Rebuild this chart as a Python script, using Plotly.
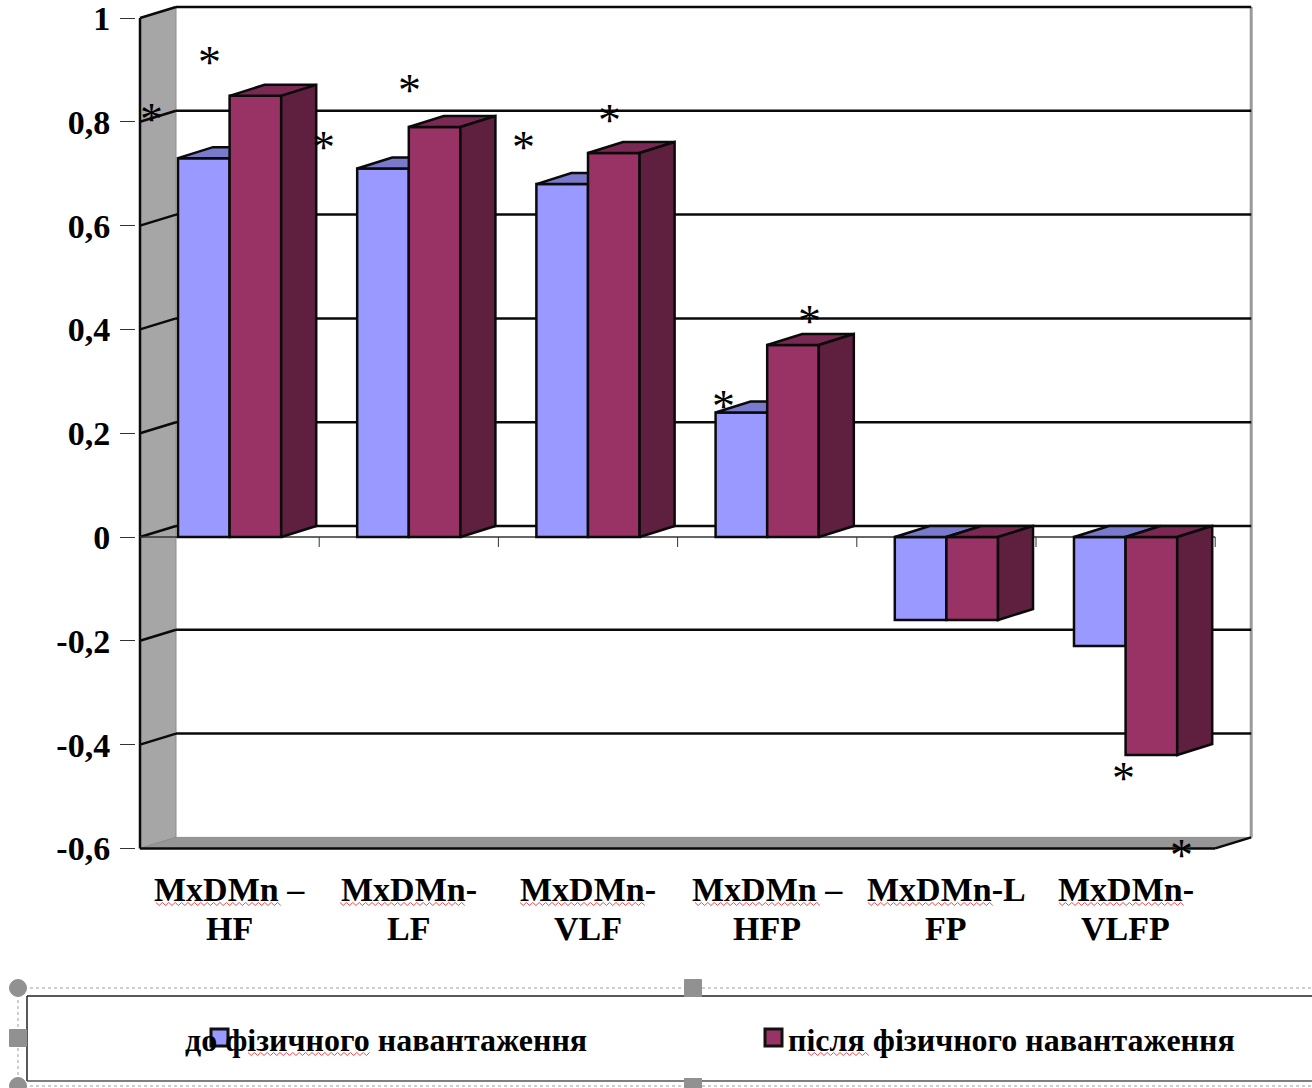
import plotly.graph_objects as go

# Chart data
categories = ["MxDMn –|HF", "MxDMn-|LF", "MxDMn-|VLF", "MxDMn –|HFP", "MxDMn-L|FP", "MxDMn-|VLFP"]
before_load = [0.73, 0.71, 0.68, 0.24, -0.16, -0.21]
after_load = [0.85, 0.79, 0.74, 0.37, -0.16, -0.42]
y_ticks = [1, 0.8, 0.6, 0.4, 0.2, 0, -0.2, -0.4, -0.6]
y_tick_labels = ["1", "0,8", "0,6", "0,4", "0,2", "0", "-0,2", "-0,4", "-0,6"]
legend_labels = ["до фізичного навантаження", "після фізичного навантаження"]

# Canvas and plot frame, in page pixels (frame leaves room for edge strokes)
W, H = 1312, 1088
LEFT, RIGHT, TOP, BOTTOM = 136, 1256, 4, 853
ORIGIN_PX, ZERO_PX, UNIT_PX, CAT_PX = 140, 537, 519, 179.2

# Depth of the extruded look, in axis units
DEPTH_X = 36 / CAT_PX
DEPTH_Y = 11 / UNIT_PX
BAR_W = 0.288
BAR_DEPTH_X = 35 / CAT_PX

X_RANGE = [(LEFT - ORIGIN_PX) / CAT_PX, (RIGHT - ORIGIN_PX) / CAT_PX]
Y_RANGE = [(ZERO_PX - BOTTOM) / UNIT_PX, (ZERO_PX - TOP) / UNIT_PX]
X_MAX = 6.0

BLUE, BLUE_TOP = "#9999FF", "#7A7ACC"
MAROON, MAROON_TOP, MAROON_SIDE = "#993366", "#7A2952", "#5F2040"
INK = "#0a0a0a"
FONT = "Liberation Serif"
EDGE = 2.5


def px(x):
    return x / W


def py(y):
    return 1 - y / H


def squiggle(x0, x1, y):
    pts = []
    x, up = x0, True
    while x <= x1:
        pts.append((x, y - 1.5 if up else y + 1.5))
        x += 3.2
        up = not up
    d = "M " + " L ".join(f"{px(a):.5f},{py(b):.5f}" for a, b in pts)
    return dict(type="path", path=d, xref="paper", yref="paper",
                line=dict(color="#F0484C", width=1), layer="above")


def poly(xs, ys, fill, line=INK, width=2, layer="below"):
    d = "M " + " L ".join(f"{a:.5f},{b:.5f}" for a, b in zip(xs, ys)) + " Z"
    return dict(type="path", path=d, xref="x", yref="y", fillcolor=fill,
                line=dict(color=line, width=width), layer=layer)


def seg(x0, y0, x1, y1, color=INK, width=2.5):
    return dict(type="line", x0=x0, y0=y0, x1=x1, y1=y1, xref="x", yref="y",
                line=dict(color=color, width=width), layer="below")


def paper_line(x0, y0, x1, y1, color, width=1, dash=None):
    return dict(type="line", x0=px(x0), y0=py(y0), x1=px(x1), y1=py(y1),
                xref="paper", yref="paper",
                line=dict(color=color, width=width, dash=dash), layer="above")


shapes = []
y_low, y_high = y_ticks[-1], y_ticks[0]

# Side wall and floor
shapes.append(poly([0, DEPTH_X, DEPTH_X, 0],
                   [y_high, y_high + DEPTH_Y, y_low + DEPTH_Y, y_low],
                   "#A6A6A6", line="#8c8c8c", width=1))
shapes.append(poly([0, DEPTH_X, X_MAX + DEPTH_X, X_MAX],
                   [y_low, y_low + DEPTH_Y, y_low + DEPTH_Y, y_low],
                   "#969696", line="#8c8c8c", width=1))

# Back wall edge and grid lines
shapes.append(seg(X_MAX + DEPTH_X, y_low + DEPTH_Y, X_MAX + DEPTH_X, y_high + DEPTH_Y, "#9a9a9a", 3))
for v in y_ticks:
    if v != y_low:
        shapes.append(seg(DEPTH_X, v + DEPTH_Y, X_MAX + DEPTH_X, v + DEPTH_Y))
        shapes.append(seg(0, v, DEPTH_X, v + DEPTH_Y))

# Front edges of the frame
shapes.append(seg(0, y_low, 0, y_high))
shapes.append(seg(0, y_low, X_MAX, y_low))
shapes.append(seg(X_MAX, y_low, X_MAX + DEPTH_X, y_low + DEPTH_Y))
shapes.append(seg(0, 0, X_MAX, 0, "#333333", 1.5))
for i in range(1, 7):
    shapes.append(seg(i, 0, i, -10 / UNIT_PX, "#333333", 1))

# Spell-check marks under the labels
for a, b in [(156, 283), (340, 467), (520, 647), (695, 822), (868, 995), (1059, 1187)]:
    shapes.append(squiggle(a, b, 904))
shapes.append(squiggle(248, 371, 1054))
shapes.append(squiggle(808, 871, 1054))

# Legend frame with its selection outline
shapes.append(paper_line(27, 996, W, 996, "#222222", 1.5))
shapes.append(paper_line(27, 996, 27, 1081, "#222222", 1.5))
shapes.append(paper_line(27, 1081, W, 1081, "#555555", 1.5))
shapes.append(paper_line(18, 988, W, 988, "#9c9c9c", 1, "dot"))
shapes.append(paper_line(18, 988, 18, 1086, "#9c9c9c", 1, "dot"))
shapes.append(paper_line(18, 1086, W, 1086, "#9c9c9c", 1, "dot"))


def handle(cx, cy, kind, r=8.5):
    return dict(type=kind, x0=px(cx - r), x1=px(cx + r), y0=py(cy - r), y1=py(cy + r),
                xref="paper", yref="paper", fillcolor="#919191",
                line=dict(color="#919191", width=1), layer="above")


shapes += [handle(18, 988, "circle"), handle(693, 988, "rect"), handle(18, 1038, "rect"),
           handle(18, 1086, "circle"), handle(693, 1087, "rect")]


def swatch(x0, x1, y0, y1, fill):
    return dict(type="rect", x0=px(x0), x1=px(x1), y0=py(y0), y1=py(y1),
                xref="paper", yref="paper", fillcolor=fill,
                line=dict(color="#111111", width=3), layer="above")


annotations = []


def note(text, x, y, size, xref="paper", color="#000000"):
    annotations.append(dict(text=text, x=x, y=y, xref=xref, yref="paper", showarrow=False,
                            xanchor="center", yanchor="middle",
                            font=dict(family=FONT, size=size, color=color)))


# Two-line category captions under the plot
for i, label in enumerate(categories):
    first, second = label.split("|")
    note(f"<b>{first}</b>", i + 0.5, py(889), 34, xref="x")
    note(f"<b>{second}</b>", i + 0.5, py(928), 34, xref="x")

# Legend captions
note(f"<b>{legend_labels[0]}</b>", px(386), py(1040), 32)
note(f"<b>{legend_labels[1]}</b>", px(1011), py(1040), 32)

# Significance markers
star_x = [151, 209, 323, 409, 523, 609, 723, 809, 1123, 1181]
star_y = [113, 56, 142, 85, 141, 114, 400, 315, 772, 849]
for sx, sy in zip(star_x, star_y):
    note("*", px(sx), py(sy + 6), 46)

fig = go.Figure()

# First series: front faces, then the top faces that show behind the second series
centers = [i + 0.5 for i in range(len(categories))]
fig.add_trace(go.Bar(x=centers, y=before_load, width=BAR_W, offset=-BAR_W, name=legend_labels[0],
                     marker=dict(color=BLUE, line=dict(color=INK, width=EDGE)),
                     xaxis="x", yaxis="y"))
for c, v in zip(centers, before_load):
    t = max(v, 0)
    fig.add_trace(go.Scatter(x=[c - BAR_W, c - BAR_W + BAR_DEPTH_X, c + BAR_DEPTH_X, c, c - BAR_W],
                             y=[t, t + DEPTH_Y, t + DEPTH_Y, t, t], mode="lines", fill="toself",
                             fillcolor=BLUE_TOP, line=dict(color=INK, width=EDGE), hoverinfo="skip",
                             xaxis="x", yaxis="y"))

# Second series sits on an overlaid axis pair so it covers the first
fig.add_trace(go.Bar(x=centers, y=after_load, width=BAR_W, offset=0, name=legend_labels[1],
                     marker=dict(color=MAROON, line=dict(color=INK, width=EDGE)),
                     xaxis="x2", yaxis="y2"))
for c, v in zip(centers, after_load):
    t = max(v, 0)
    right = c + BAR_W
    fig.add_trace(go.Scatter(x=[c, c + BAR_DEPTH_X, right + BAR_DEPTH_X, right, c],
                             y=[t, t + DEPTH_Y, t + DEPTH_Y, t, t], mode="lines", fill="toself",
                             fillcolor=MAROON_TOP, line=dict(color=INK, width=EDGE), hoverinfo="skip",
                             xaxis="x2", yaxis="y2"))
    fig.add_trace(go.Scatter(x=[right, right + BAR_DEPTH_X, right + BAR_DEPTH_X, right, right],
                             y=[0, DEPTH_Y, v + DEPTH_Y, v, 0], mode="lines", fill="toself",
                             fillcolor=MAROON_SIDE, line=dict(color=INK, width=EDGE), hoverinfo="skip",
                             xaxis="x2", yaxis="y2"))

x_domain = [LEFT / W, RIGHT / W]
y_domain = [1 - BOTTOM / H, 1 - TOP / H]

fig.update_layout(
    width=W, height=H, autosize=False,
    margin=dict(l=0, r=0, t=0, b=0, autoexpand=False),
    paper_bgcolor="white", plot_bgcolor="rgba(0,0,0,0)",
    showlegend=False, barmode="overlay",
    font=dict(family=FONT, color="#000000"),
    shapes=shapes, annotations=annotations,
    xaxis=dict(domain=x_domain, range=X_RANGE, showgrid=False, zeroline=False,
               showline=False, showticklabels=False, ticks=""),
    yaxis=dict(domain=y_domain, range=Y_RANGE, showgrid=False, zeroline=False, showline=False,
               tickmode="array", tickvals=y_ticks, ticktext=[f"<b>{t}</b>" for t in y_tick_labels],
               ticks="outside", ticklen=15, tickwidth=1, tickcolor="#333333",
               ticklabelstandoff=3, ticklabeloverflow="allow",
               tickfont=dict(family=FONT, size=34, color="#000000")),
    xaxis2=dict(domain=x_domain, range=X_RANGE, overlaying="x", anchor="y2", visible=False),
    yaxis2=dict(domain=y_domain, range=Y_RANGE, overlaying="y", anchor="x2", visible=False),
)

# Legend swatches rest on top of the captions
fig.layout.shapes = list(fig.layout.shapes) + [
    swatch(211, 228, 1029, 1046, BLUE),
    swatch(765, 782, 1029, 1046, MAROON),
]

fig.write_html("out.html")
